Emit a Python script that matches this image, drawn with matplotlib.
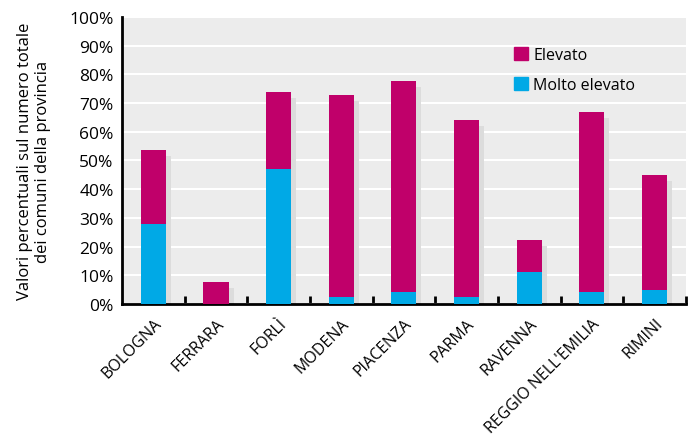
import matplotlib
matplotlib.use("Agg")
import matplotlib.pyplot as plt
import matplotlib.transforms as mtransforms
from matplotlib.patches import Patch
import numpy as np

plt.rcParams['font.family'] = ['Open Sans', 'DejaVu Sans']

province = ["BOLOGNA", "FERRARA", "FORLÌ", "MODENA", "PIACENZA", "PARMA",
            "RAVENNA", "REGGIO NELL'EMILIA", "RIMINI"]
molto_elevato = [28, 0, 47, 2.5, 4.2, 2.4, 11, 4.2, 5]
elevato = [25.7, 7.8, 27, 70.3, 73.5, 61.7, 11.3, 62.7, 40]
y_ticks = [0, 10, 20, 30, 40, 50, 60, 70, 80, 90, 100]

c_elev = "#c0006a"
c_molto = "#00a9e6"
c_shadow = "#dcdcdc"

fig = plt.figure(figsize=(6.9, 4.35), dpi=100)
ax = fig.add_axes([0.1768, 0.2989, 0.8172, 0.6597])
ax.set_facecolor("#ececec")

x = np.arange(len(province))
totals = np.array(molto_elevato) + np.array(elevato)

shadow_tr = mtransforms.offset_copy(ax.transData, fig=fig, x=5, y=-6, units='dots')
ax.bar(x, totals, width=0.4, color=c_shadow, transform=shadow_tr, zorder=2)
ax.bar(x, molto_elevato, width=0.4, color=c_molto, zorder=3, label="Molto elevato")
ax.bar(x, elevato, width=0.4, bottom=molto_elevato, color=c_elev, zorder=3, label="Elevato")

ax.set_xlim(-0.5, len(province) - 0.5)
ax.set_ylim(0, 100)
ax.set_yticks(y_ticks)
ax.set_yticklabels([f"{v}%" for v in y_ticks], fontsize=12.5)
ax.yaxis.grid(True, color="white", linewidth=1.5, zorder=1)
ax.set_axisbelow(True)
ax.tick_params(axis='y', length=0, pad=6)

ax.set_xticks(x)
ax.set_xticklabels(province, rotation=45, ha='right', rotation_mode='anchor', fontsize=11.5)
ax.tick_params(axis='x', length=0, pad=8)
# separators between categories on the base line
ax.set_xticks(np.arange(len(province)) + 0.5, minor=True)
ax.tick_params(axis='x', which='minor', direction='in', length=6, width=2, color='black')

for s in ['top', 'right']:
    ax.spines[s].set_visible(False)
ax.spines['left'].set_linewidth(2)
ax.spines['bottom'].set_linewidth(2)

ax.set_ylabel("Valori percentuali sul numero totale\ndei comuni della provincia",
              fontsize=12, labelpad=13, linespacing=1.15)

handles = [Patch(color=c_elev, label="Elevato"), Patch(color=c_molto, label="Molto elevato")]
ax.legend(handles=handles, loc='upper left', bbox_to_anchor=(0.67, 0.945), frameon=False,
          fontsize=11.5, handlelength=0.85, handleheight=0.85, handletextpad=0.35, labelspacing=0.85)

fig.savefig("out.png", dpi=100)
